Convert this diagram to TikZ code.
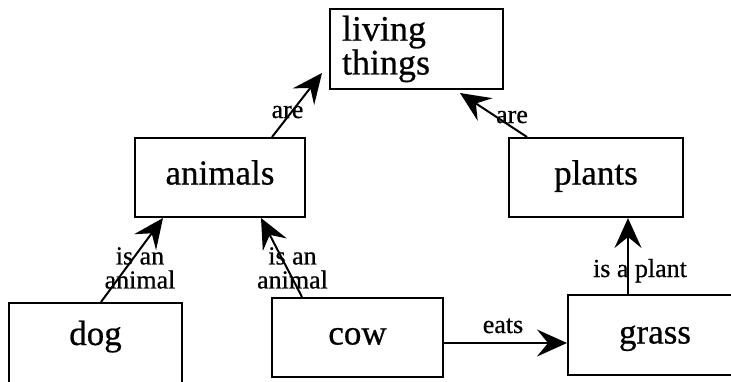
\documentclass[tikz,border=0pt]{standalone}
\usepackage{fontspec}
\setmainfont[FakeBold=0.6]{Liberation Serif}
\usetikzlibrary{arrows.meta,calc}
\begin{document}
\begin{tikzpicture}[x=1pt,y=-1pt,
  box/.style={draw,line width=2pt,inner sep=0pt,font=\fontsize{35}{36}\selectfont,text height=24pt,text depth=10pt},
  livingbox/.style={draw,line width=2pt,inner xsep=12pt,inner ysep=0pt,text width=149pt,align=left,minimum height=80pt,font=\fontsize{36}{31}\selectfont},
  lbl/.style={inner sep=0pt,font=\fontsize{26}{24}\selectfont,align=center},
  arr/.style={line width=2pt,-{Stealth[length=30pt,width=27pt,inset=11pt]}}]
\useasboundingbox (0,0) rectangle (731,381);
\node[livingbox] (living) at (416.5,49) {living\\things};
\node[box,minimum width=170pt,minimum height=79pt] (animals) at (220,177.5) {animals};
\node[box,minimum width=174pt,minimum height=79pt] (plants) at (596,177.5) {plants};
\node[box,minimum width=173pt,minimum height=86pt,text height=18pt,text depth=20pt] (dog) at (95.5,346) {dog};
\node[box,minimum width=171pt,minimum height=79pt] (cow) at (357.5,337.5) {cow};
\node[box,minimum width=174pt,minimum height=80pt,text height=25pt,text depth=8pt] (grass) at (655,335) {grass};
\draw[arr] ($(dog.north)+(5.5,0)$) -- ($(animals.south)+(-57,0)$);
\draw[arr] ($(cow.north)+(-55.5,0)$) -- ($(animals.south)+(41,0)$);
\draw[arr] ($(animals.north)+(52,0)$) -- ($(living.west)+(-7,24)$);
\draw[arr] ($(plants.north)+(-69,0)$) -- ($(living.south)+(43.5,3)$);
\draw[arr] ($(grass.north)+(-27,0)$) -- ($(plants.south)+(32,0)$);
\draw[arr] ($(cow.east)+(0,5.5)$) -- ($(grass.west)+(0,8)$);
\node[lbl,anchor=base] (lare1) at (287.5,118) {are};
\node[lbl,anchor=base] (lare2) at (512,123) {are};
\node[lbl,anchor=base] (lplant) at (640,277) {is a plant};
\node[lbl,anchor=base] (leats) at (503,333) {eats};
\node[lbl] (lanim1) at (140,268) {is an\\animal};
\node[lbl] (lanim2) at (292.5,268) {is an\\animal};
\end{tikzpicture}
\end{document}
